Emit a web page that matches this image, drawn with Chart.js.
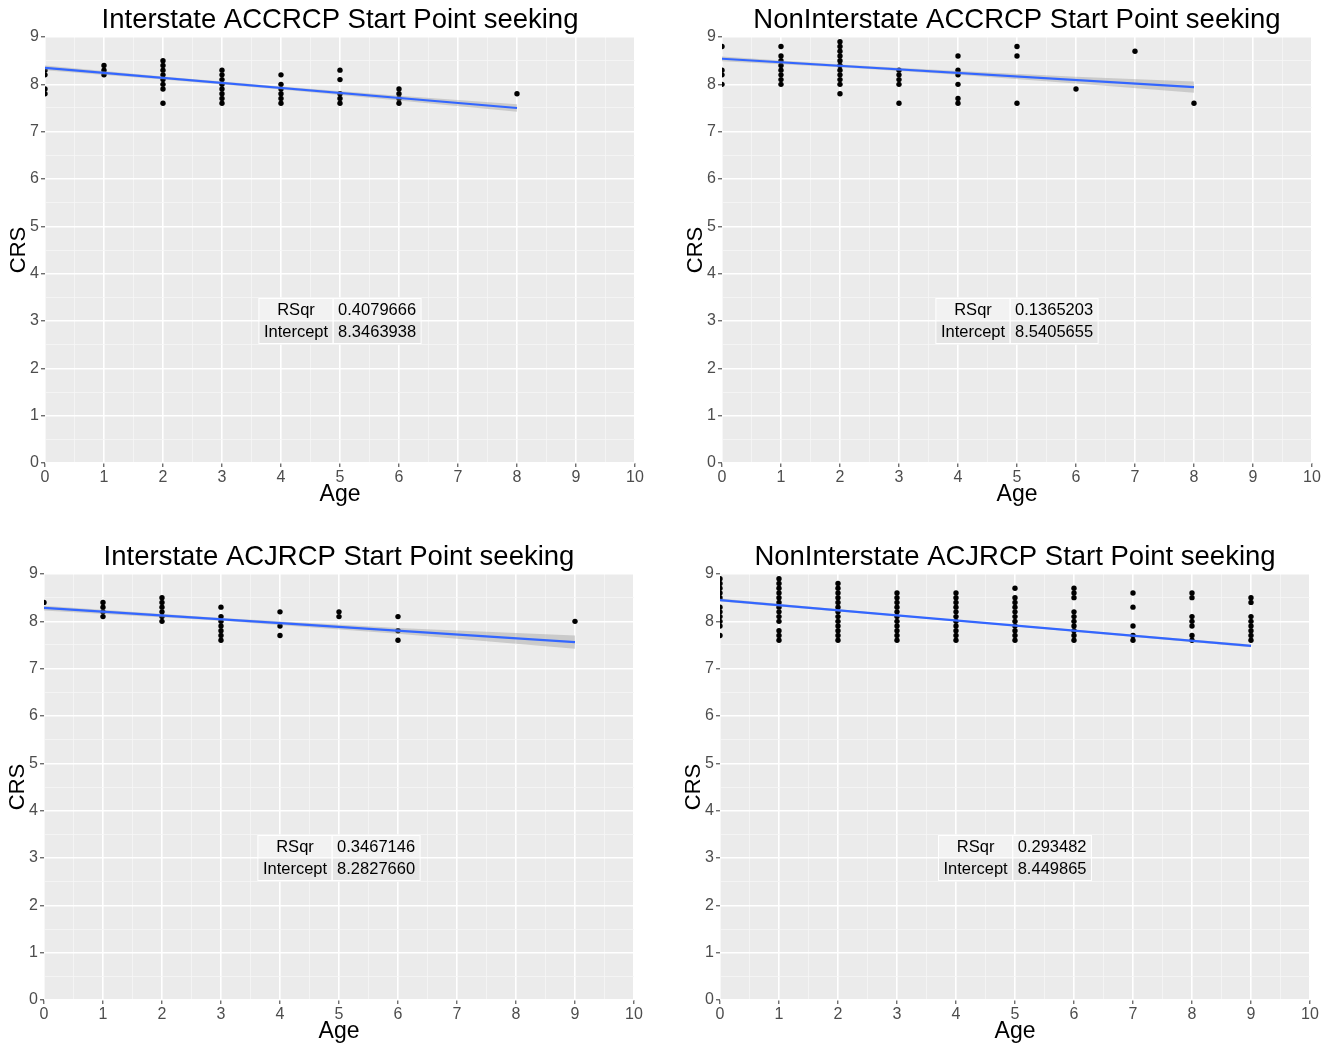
<!DOCTYPE html>
<html>
<head>
<meta charset="utf-8">
<script src="https://cdn.jsdelivr.net/npm/chart.js@4.4.1/dist/chart.umd.min.js"></script>
<style>
html,body{margin:0;padding:0;background:#fff;overflow:hidden;width:1339px;height:1048px;position:relative;}
canvas{position:absolute;}
</style>
</head>
<body>
<canvas id="c1" width="680" height="520" style="left:0px;top:0px"></canvas>
<canvas id="c2" width="680" height="520" style="left:677px;top:0px"></canvas>
<canvas id="c3" width="680" height="520" style="left:-1px;top:537px"></canvas>
<canvas id="c4" width="680" height="520" style="left:675px;top:537px"></canvas>
<script>
// ---------- data ----------
const xLabel = 'Age';
const yLabel = 'CRS';
const statLabels = ['RSqr', 'Intercept'];

// Panel 1: Interstate ACCRCP
const title1 = 'Interstate ACCRCP Start Point seeking';
const age1 = [0,0,0,0, 1,1,1, 2,2,2,2,2,2,2,2, 3,3,3,3,3,3,3,3, 4,4,4,4,4,4, 5,5,5,5,5, 6,6,6,6, 8];
const crs1 = [8.3,8.2,7.9,7.8, 8.4,8.3,8.2, 8.5,8.4,8.3,8.2,8.1,8.0,7.9,7.6, 8.3,8.2,8.1,8.0,7.9,7.8,7.7,7.6, 8.2,8.0,7.9,7.8,7.7,7.6, 8.3,8.1,7.8,7.7,7.6, 7.9,7.8,7.7,7.6, 7.8];
const fitX1 = [0, 8];
const fitY1 = [8.346, 7.50];
const bandX1 = [0, 2, 4, 6, 8];
const bandHi1 = [8.396, 8.164, 7.953, 7.761, 7.58];
const bandLo1 = [8.296, 8.104, 7.893, 7.661, 7.42];
const stats1 = ['0.4079666', '8.3463938'];

// Panel 2: NonInterstate ACCRCP
const title2 = 'NonInterstate ACCRCP Start Point seeking';
const age2 = [0,0,0,0, 1,1,1,1,1,1,1,1, 2,2,2,2,2,2,2,2,2,2,2, 3,3,3,3,3, 4,4,4,4,4,4, 5,5,5, 6, 7, 8];
const crs2 = [8.8,8.3,8.2,8.0, 8.8,8.6,8.5,8.4,8.3,8.2,8.1,8.0, 8.9,8.8,8.7,8.6,8.5,8.4,8.3,8.2,8.1,8.0,7.8, 8.3,8.2,8.1,8.0,7.6, 8.6,8.3,8.2,8.0,7.7,7.6, 8.8,8.6,7.6, 7.9, 8.7, 7.6];
const fitX2 = [0, 8];
const fitY2 = [8.541, 7.94];
const bandX2 = [0, 2, 4, 6, 8];
const bandHi2 = [8.59, 8.42, 8.28, 8.16, 8.06];
const bandLo2 = [8.49, 8.36, 8.20, 8.02, 7.82];
const stats2 = ['0.1365203', '8.5405655'];

// Panel 3: Interstate ACJRCP
const title3 = 'Interstate ACJRCP Start Point seeking';
const age3 = [0, 1,1,1,1, 2,2,2,2,2,2, 3,3,3,3,3,3,3, 4,4,4, 5,5, 6,6,6, 9];
const crs3 = [8.4, 8.4,8.3,8.2,8.1, 8.5,8.4,8.3,8.2,8.1,8.0, 8.3,8.1,8.0,7.9,7.8,7.7,7.6, 8.2,7.9,7.7, 8.2,8.1, 8.1,7.8,7.6, 8.0];
const fitX3 = [0, 9];
const fitY3 = [8.283, 7.56];
const bandX3 = [0, 3, 6, 9];
const bandHi3 = [8.33, 8.07, 7.86, 7.70];
const bandLo3 = [8.23, 8.01, 7.74, 7.42];
const stats3 = ['0.3467146', '8.2827660'];

// Panel 4: NonInterstate ACJRCP
const title4 = 'NonInterstate ACJRCP Start Point seeking';
const age4 = [
  0,0,0,0,0,0,0,0,0,0,0,
  1,1,1,1,1,1,1,1,1,1,1,1,1,
  2,2,2,2,2,2,2,2,2,2,2,2,2,
  3,3,3,3,3,3,3,3,3,3,3,
  4,4,4,4,4,4,4,4,4,4,4,
  5,5,5,5,5,5,5,5,5,5,5,
  6,6,6,6,6,6,6,6,6,6,
  7,7,7,7,7,
  8,8,8,8,8,8,8,
  9,9,9,9,9,9,9,9
];
const crs4 = [
  8.9,8.8,8.7,8.6,8.5,8.3,8.2,8.1,8.0,7.9,7.7,
  8.9,8.8,8.7,8.6,8.5,8.4,8.3,8.2,8.1,8.0,7.8,7.7,7.6,
  8.8,8.7,8.6,8.5,8.4,8.3,8.2,8.1,8.0,7.9,7.8,7.7,7.6,
  8.6,8.5,8.4,8.3,8.2,8.1,8.0,7.9,7.8,7.7,7.6,
  8.6,8.5,8.4,8.3,8.2,8.1,8.0,7.9,7.8,7.7,7.6,
  8.7,8.5,8.4,8.3,8.2,8.1,8.0,7.9,7.8,7.7,7.6,
  8.7,8.6,8.5,8.2,8.1,8.0,7.9,7.8,7.7,7.6,
  8.6,8.3,7.9,7.7,7.6,
  8.6,8.5,8.1,8.0,7.9,7.7,7.6,
  8.5,8.4,8.1,8.0,7.9,7.8,7.7,7.6
];
const fitX4 = [0, 9];
const fitY4 = [8.450, 7.48];
const bandX4 = [0, 4, 9];
const bandHi4 = [8.48, 8.03, 7.51];
const bandLo4 = [8.42, 8.00, 7.45];
const stats4 = ['0.293482', '8.449865'];

const xTicksMax = 10;
const yTicksMax = 9;

// ---------- drawing ----------
const FONT = "'Liberation Sans', Arial, Helvetica, sans-serif";
Chart.defaults.font.family = FONT;

const isMajor = v => Math.abs(v - Math.round(v)) < 1e-9;

const panelBg = {
  id: 'panelBg',
  beforeDraw(chart) {
    const {ctx, chartArea: a} = chart;
    ctx.save();
    ctx.fillStyle = '#EBEBEB';
    ctx.fillRect(a.left, a.top, a.right - a.left, a.bottom - a.top);
    ctx.restore();
  }
};

const statsTable = {
  id: 'statsTable',
  afterDatasetsDraw(chart, args, opts) {
    const {ctx, scales: {x, y}} = chart;
    const labels = opts.labels, values = opts.values;
    ctx.save();
    ctx.font = '16.5px ' + FONT;
    const pad = 5;
    const w1 = Math.max(...labels.map(t => ctx.measureText(t).width)) + 2 * pad;
    const w2 = Math.max(...values.map(t => ctx.measureText(t).width)) + 2 * pad;
    const rh = 22.5;
    const cx = x.getPixelForValue(opts.atX);
    const cy = y.getPixelForValue(opts.atY);
    const W = w1 + w2, H = rh * labels.length;
    const left = cx - W / 2, top = cy - H / 2;
    const fills = ['#F2F2F2', '#E5E5E5'];
    for (let r = 0; r < labels.length; r++) {
      const ty = top + r * rh;
      ctx.fillStyle = fills[r % 2];
      ctx.fillRect(left, ty, w1, rh);
      ctx.fillRect(left + w1, ty, w2, rh);
      ctx.strokeStyle = '#ffffff';
      ctx.lineWidth = 1;
      ctx.strokeRect(left, ty, w1, rh);
      ctx.strokeRect(left + w1, ty, w2, rh);
      ctx.fillStyle = '#000000';
      ctx.textAlign = 'center';
      ctx.textBaseline = 'middle';
      ctx.fillText(labels[r], left + w1 / 2, ty + rh / 2 + 0.5);
      ctx.fillText(values[r], left + w1 + w2 / 2, ty + rh / 2 + 0.5);
    }
    ctx.restore();
  }
};

function gridOpts() {
  return {
    color: c => isMajor(c.tick.value) ? '#ffffff' : '#f6f6f6',
    lineWidth: c => isMajor(c.tick.value) ? 1.6 : 0.8,
    tickColor: c => isMajor(c.tick.value) ? '#333333' : 'rgba(0,0,0,0)',
    tickLength: 4,
    tickWidth: 1,
    drawOnChartArea: true
  };
}

function makePanel(id, title, ages, crs, fitX, fitY, bandX, bandHi, bandLo, stats) {
  const pts = ages.map((a, i) => ({x: a, y: crs[i]}));
  const fit = fitX.map((v, i) => ({x: v, y: fitY[i]}));
  const hi = bandX.map((v, i) => ({x: v, y: bandHi[i]}));
  const lo = bandX.map((v, i) => ({x: v, y: bandLo[i]}));
  new Chart(document.getElementById(id), {
    type: 'scatter',
    data: {
      datasets: [
        {type: 'line', data: fit, borderColor: '#3366FF', borderWidth: 2.2, pointRadius: 0, fill: false, order: 0, tension: 0},
        {type: 'line', data: hi, borderColor: 'rgba(0,0,0,0)', borderWidth: 0, pointRadius: 0, backgroundColor: 'rgba(153,153,153,0.4)', fill: '+1', order: 1, tension: 0},
        {type: 'line', data: lo, borderColor: 'rgba(0,0,0,0)', borderWidth: 0, pointRadius: 0, fill: false, order: 1, tension: 0},
        {type: 'scatter', data: pts, pointRadius: 2.7, pointBackgroundColor: '#000000', pointBorderWidth: 0, pointBorderColor: '#000000', clip: 0, order: 2}
      ]
    },
    options: {
      responsive: false,
      animation: false,
      devicePixelRatio: 1,
      events: [],
      layout: {padding: {left: 0, right: 45, top: 0, bottom: 0}},
      plugins: {
        legend: {display: false},
        tooltip: {enabled: false},
        title: {
          display: true, text: title, color: '#000000', fullSize: false,
          font: {size: 27.5, weight: 'normal', family: FONT},
          padding: {top: 4, bottom: 0}
        },
        statsTable: {labels: statLabels, values: stats, atX: 5, atY: 3}
      },
      scales: {
        x: {
          type: 'linear', min: 0, max: xTicksMax,
          border: {display: false},
          grid: gridOpts(),
          ticks: {
            stepSize: 0.5, autoSkip: false, maxRotation: 0, padding: 1,
            color: '#4d4d4d', font: {size: 16},
            callback: v => isMajor(v) ? String(Math.round(v)) : ''
          },
          title: {display: true, text: xLabel, color: '#000000', font: {size: 23}, padding: {top: 0, bottom: 12}},
          afterFit: s => { s.height = 57; }
        },
        y: {
          type: 'linear', min: 0, max: yTicksMax,
          border: {display: false},
          grid: gridOpts(),
          ticks: {
            stepSize: 0.5, autoSkip: false, padding: 2,
            color: '#4d4d4d', font: {size: 16},
            callback: v => isMajor(v) ? String(Math.round(v)) : ''
          },
          title: {display: true, text: yLabel, color: '#000000', font: {size: 22}, padding: {top: 6, bottom: 0}},
          afterFit: s => { s.width = 45; }
        }
      }
    },
    plugins: [panelBg, statsTable]
  });
}

makePanel('c1', title1, age1, crs1, fitX1, fitY1, bandX1, bandHi1, bandLo1, stats1);
makePanel('c2', title2, age2, crs2, fitX2, fitY2, bandX2, bandHi2, bandLo2, stats2);
makePanel('c3', title3, age3, crs3, fitX3, fitY3, bandX3, bandHi3, bandLo3, stats3);
makePanel('c4', title4, age4, crs4, fitX4, fitY4, bandX4, bandHi4, bandLo4, stats4);
</script>
</body>
</html>
